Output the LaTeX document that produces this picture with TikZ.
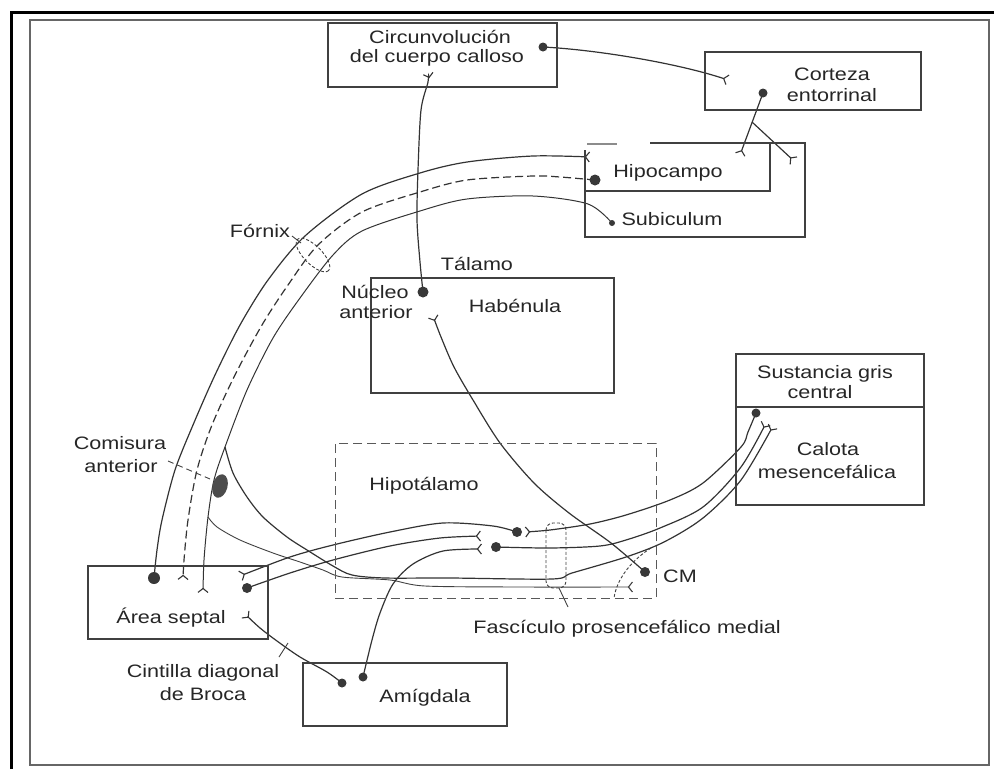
\documentclass[tikz,border=0pt]{standalone}
\usepackage{fontspec}
\setmainfont{Liberation Sans}[FakeStretch=1.2]
\usetikzlibrary{arrows.meta,backgrounds}
\begin{document}
\begin{tikzpicture}[x=1pt,y=-1pt,
  font=\fontsize{18}{20}\selectfont,
  lab/.style={anchor=base, inner sep=0pt, text=black!85},
  ln/.style={draw=black!80, line width=1.2pt},
  thin/.style={draw=black!75, line width=0.9pt},
  bx/.style={draw=black!75, line width=1.2pt, inner sep=0pt},
  syn/.style={-{Straight Barb[reversed,length=4pt,width=10pt,line width=1.1pt]}},
  nd/.style={circle, fill=black!78, inner sep=0pt, minimum size=#1},
  nd/.default=10pt]
\useasboundingbox (0,0) rectangle (994,769);
% frame
\draw[line width=3pt, black] (11,769) -- (11,12) -- (994,12);
\draw[line width=1.5pt, black!60] (30,20) rectangle (989,765);

% boxes
\node[bx, minimum width=229pt, minimum height=64pt] (circ) at (442.5,55) {};
\node[bx, minimum width=216pt, minimum height=58pt] (cort) at (813,81) {};
\node[bx, minimum width=243pt, minimum height=115pt] (hab) at (492.5,335.5) {};
\node[bx, draw=black!65, line width=1pt, dash pattern=on 9pt off 5pt, minimum width=321pt, minimum height=155pt] (hyp) at (495.5,520.5) {};
\node[bx, minimum width=188pt, minimum height=151pt] (sust) at (830,429.5) {};
\draw[bx] (736,407) -- (924,407);
\node[bx, minimum width=180pt, minimum height=73pt] (sept) at (178,602.5) {};
\node[bx, minimum width=204pt, minimum height=63pt] (amig) at (405,694.5) {};
% hippocampus / subiculum boxes
\draw[bx] (585,150) -- (585,237) -- (805,237) -- (805,143) -- (650,143);
\draw[bx, draw=black!45] (587,144) -- (617,144);
\draw[bx] (585,191) -- (770,191) -- (770,143);

% texts
\node[lab] (t1) at (440,43) {Circunvolución};
\node[lab] (t2) at (437,62) {del cuerpo calloso};
\node[lab] (t3) at (832,80) {Corteza};
\node[lab] (t4) at (832,101) {entorrinal};
\node[lab] (t5) at (668,177) {Hipocampo};
\node[lab] (t6) at (672,225) {Subiculum};
\node[lab] (t7) at (260,237) {Fórnix};
\node[lab] (t8) at (477,270) {Tálamo};
\node[lab] (t9) at (375,298) {Núcleo};
\node[lab] (t10) at (376,318) {anterior};
\node[lab] (t11) at (515,312) {Habénula};
\node[lab] (t12) at (825,378) {Sustancia gris};
\node[lab] (t13) at (820,398) {central};
\node[lab] (t14) at (828,455) {Calota};
\node[lab] (t15) at (827,478) {mesencefálica};
\node[lab] (t16) at (120,449) {Comisura};
\node[lab] (t17) at (121,472) {anterior};
\node[lab] (t18) at (424,490) {Hipotálamo};
\node[lab] (t19) at (171,623) {Área septal};
\node[lab] (t20) at (203,677) {Cintilla diagonal};
\node[lab] (t21) at (203,700) {de Broca};
\node[lab] (t22) at (425,702) {Amígdala};
\node[lab] (t23) at (680,582) {CM};
\node[lab] (t24) at (627,633) {Fascículo prosencefálico medial};

% neuron bodies
\node[nd=9pt] (cdot) at (543,47) {};
\node[nd=9pt] (kdot) at (763,93) {};
\node[nd=11pt] (hdot) at (595,180) {};
\node[nd=6pt] (sbdot) at (612,223) {};
\node[nd=11pt] (ndot) at (423,292) {};
\node[nd=12pt] (sdot) at (154,578) {};
\node[nd=10pt] (sdot2) at (247,588) {};
\node[nd=10pt] (hd1) at (517,532) {};
\node[nd=10pt] (hd2) at (496,547) {};
\node[nd=10pt] (cmdot) at (645,572) {};
\node[nd=9pt] (sgdot) at (756,413) {};
\node[nd=9pt] (adot1) at (342,683) {};
\node[nd=9pt] (adot2) at (363,677) {};

% terminal points
\coordinate (circfork) at (428,73);
\coordinate (cortfork) at (728,80);
\coordinate (kb) at (752,122);
\coordinate (hipf1) at (740,155);
\coordinate (hipf2) at (794,161);
\coordinate (hipfx) at (590,157);
\coordinate (sepf1) at (183,580);
\coordinate (sepf2) at (203,593);
\coordinate (sepf3) at (240,576);
\coordinate (sepf4) at (245,614);
\coordinate (nucf) at (433,316);
\coordinate (hyf1) at (525,532);
\coordinate (hyf2) at (481,536);
\coordinate (hyf3) at (482,549);
\coordinate (cmf) at (633,587);
\coordinate (sgf1) at (766,423);
\coordinate (sgf2) at (773,426);
\coordinate (fb1) at (225,447);
\coordinate (fb2) at (208,517);

\begin{scope}[on background layer]
% cingulate -> entorhinal
\draw[ln,syn] (cdot.center) .. controls (600,50) and (680,64) .. (cortfork);
% entorhinal -> hippocampus / subiculum
\draw[ln,syn] (kdot.center) -- (hipf1);
\draw[ln,syn] (kb) -- (hipf2);
% anterior nucleus -> cingulate
\draw[ln,syn] plot[smooth] coordinates {(ndot.center) (420,262) (417,220) (418,170) (421,110) (428,82) (circfork)};
% fornix outer
\draw[ln,syn] plot[smooth] coordinates {(sdot.center) (157,550) (162,520) (175,470) (193,425) (215,375) (240,325) (268,280) (305,236) (362,194) (420,173) (467,162) (533,156) (hipfx)};
% fornix dashed
\draw[ln,dash pattern=on 8pt off 4pt,syn] plot[smooth] coordinates {(hdot.center) (560,177) (533,176) (467,180) (420,192) (362,212) (318,245) (288,285) (262,325) (235,375) (212,425) (197,470) (188,520) (184,560) (sepf1)};
% fornix inner
\draw[ln,line width=1pt,syn] plot[smooth] coordinates {(sbdot.center) (588,204) (533,196) (467,199) (420,211) (362,231) (333,255) (300,298) (273,338) (247,390) (fb1) (214,480) (fb2) (204,560) (sepf2)};
% branches to hypothalamus / tegmentum
\draw[ln,line width=1.2pt,syn] plot[smooth] coordinates {(fb1) (233,473) (247,497) (263,517) (287,537) (307,550) (333,566) (352,575) (385,578) (450,578) (552,579) (572,573) (626,557) (664,542) (703,518) (741,480) (sgf2)};
\draw[thin,syn] plot[smooth] coordinates {(fb2) (217,527) (240,540) (273,553) (300,562) (323,570) (342,577) (390,580) (425,586) (520,587) (cmf)};
% septal crossings
\draw[ln,syn] plot[smooth] coordinates {(hd1.center) (493,526) (443,523) (390,532) (333,545) (290,557) (sepf3)};
\draw[ln,syn] plot[smooth] coordinates {(sdot2.center) (290,573) (333,560) (390,546) (440,538) (hyf2)};
% amygdala
\draw[ln,syn] plot[smooth] coordinates {(adot2.center) (372,640) (380,613) (393,584) (413,564) (443,551) (hyf3)};
\draw[ln,syn] plot[smooth] coordinates {(adot1.center) (327,672) (300,657) (277,641) (260,628) (sepf4)};
% CM -> anterior nucleus
\draw[ln,syn] plot[smooth] coordinates {(cmdot.center) (611,543) (569,513) (534,483) (500,443) (473,400) (454,367) (441,337) (nucf)};
% medial forebrain bundle to tegmentum / central grey
\draw[ln,syn] plot[smooth] coordinates {(sgdot.center) (748,432) (741,447) (703,483) (670,500) (626,515) (590,524) (550,530) (hyf1)};
\draw[ln,syn] plot[smooth] coordinates {(hd2.center) (550,548) (600,546) (626,540) (660,528) (703,507) (741,467) (sgf1)};

% markers and leaders
\draw[thin, densely dashed, rotate around={-45:(313,255)}] (313,255) ellipse (22 and 9);
\draw[thin] (292,236) -- (301,243);
\draw[thin, densely dashed, rounded corners=7pt] (546,523) rectangle (566,588);
\draw[thin] (559,588) -- (568,607);
\draw[thin, densely dashed] (651,548) .. controls (632,560) and (617,578) .. (614,598);
\draw[thin, dash pattern=on 6pt off 4pt] (168,461) -- (210,479);
\draw[thin] (279,657) -- (288,643);
\end{scope}
\fill[black!70, rotate around={-15:(220,486)}] (220,486) ellipse (7.5 and 12);
\end{tikzpicture}
\end{document}
